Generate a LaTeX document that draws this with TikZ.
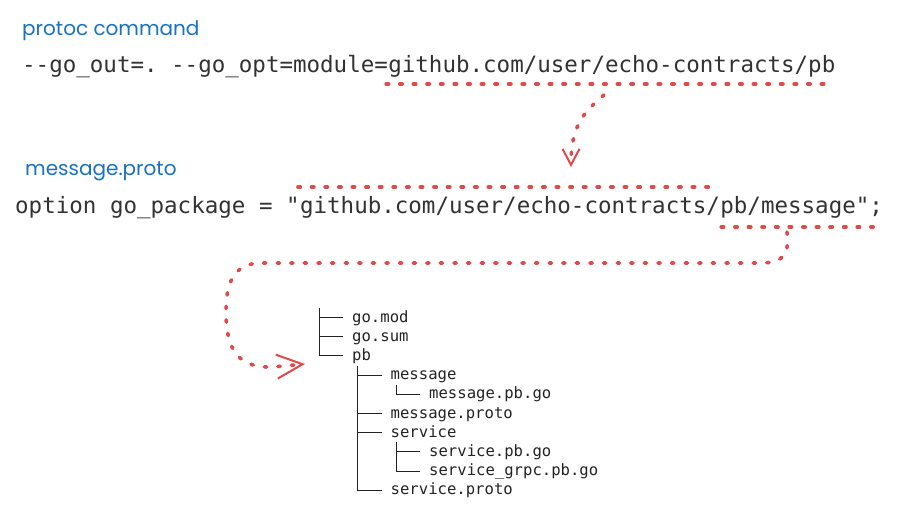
\documentclass[tikz,border=0pt]{standalone}
\usepackage{fontspec}
\setmonofont{DejaVu Sans Mono}
\newfontfamily\handfont{Poppins}
\usetikzlibrary{arrows.meta, positioning, calc}
\definecolor{codegray}{RGB}{50,50,50}
\definecolor{treegray}{RGB}{35,35,35}
\definecolor{noteblue}{RGB}{25,113,194}
\definecolor{dotred}{RGB}{224,74,74}

\begin{document}
\begin{tikzpicture}[x=1pt, y=1pt,
    note/.style={anchor=base west, inner sep=0pt, text=noteblue, font=\handfont\fontsize{20}{24}\selectfont},
    codeline/.style={anchor=base west, inner sep=0pt, text=codegray, font=\ttfamily\fontsize{22.5}{27}\selectfont},
    entry/.style={anchor=west, inner sep=0pt, text height=9pt, text depth=0pt, text=treegray, font=\ttfamily\fontsize{15.6}{19}\selectfont},
    treeline/.style={draw=treegray, line width=1pt},
    dots/.style={draw=dotred, line width=3.6pt, line cap=round, dash pattern=on 2.4pt off 11.2pt},
    tipsmall/.style={-{Straight Barb[length=16pt, width=17pt, line width=2pt]}},
    tipbig/.style={-{Straight Barb[length=26pt, width=24pt, line width=2pt]}}]
    \useasboundingbox (0,0) rectangle (900,-514);

    \node[note] (cmdnote) at (22,-35) {protoc command};
    \node[codeline] (optflags) at (22,-72) {-{}-go\_out=. -{}-go\_opt=module=};
    \node[codeline, right=0pt of optflags.base east, anchor=base west] (modpath) {github.com/user/echo-contracts/pb};

    \node[note] (protonote) at (25,-175) {message.proto};
    \node[codeline] (optkey) at (15,-213) {option go\_package = "};
    \node[codeline, right=0pt of optkey.base east, anchor=base west] (pkgpath) {github.com/user/echo-contracts/};
    \node[codeline, right=0pt of pkgpath.base east, anchor=base west] (pkgleaf) {pb/message";};

    \draw[dots] ([shift={(-2,-12)}]modpath.base west) -- ([shift={(-8,-12)}]modpath.base east);
    \draw[dots] ([shift={(-2,26)}]pkgpath.base west) -- ([shift={(-3,26)}]pkgpath.base east);
    \draw[dots] ([shift={(1,-14)}]pkgleaf.base west) -- ([shift={(-8,-14)}]pkgleaf.base east);

    \coordinate (modtail) at (604,-95);
    \coordinate (pkghead) at (571,-167);
    \draw[dots, tipsmall] (modtail) .. controls (584,-112) and (571,-125) .. (pkghead);

    \foreach \lvl/\name/\txt [count=\r] in {0/gomod/go.mod, 0/gosum/go.sum, 0/pb/pb,
        1/msgdir/message, 2/msgpbgo/message.pb.go, 1/msgproto/message.proto,
        1/svcdir/service, 2/svcpbgo/service.pb.go, 2/svcgrpc/service\_grpc.pb.go,
        1/svcproto/service.proto}
        \node[entry] (\name) at (352+38.5*\lvl, -298.3-19.2*\r) {\txt};

    \foreach \n in {gomod,gosum,msgdir,msgproto,svcdir,svcpbgo}
        \draw[treeline] ([xshift=-33pt]\n.west) -- ([xshift=-9pt]\n.west);
    \draw[treeline] ([shift={(-33,9.6)}]gomod.west) |- ([xshift=-9pt]pb.west);
    \draw[treeline] ([shift={(-33,9.6)}]msgdir.west) |- ([xshift=-9pt]svcproto.west);
    \draw[treeline] ([shift={(-33,9.6)}]msgpbgo.west) |- ([xshift=-9pt]msgpbgo.west);
    \draw[treeline] ([shift={(-33,9.6)}]svcpbgo.west) |- ([xshift=-9pt]svcgrpc.west);

    \coordinate (leaftail) at (787,-232);
    \coordinate (treehead) at (305,-364);
    \draw[dots, tipbig] (leaftail) .. controls (789,-252) and (786,-263) .. (760,-263) -- (262,-263)
        .. controls (232,-263) and (226,-285) .. (226,-312)
        .. controls (226,-352) and (240,-368) .. (272,-367) -- (treehead);
\end{tikzpicture}
\end{document}
